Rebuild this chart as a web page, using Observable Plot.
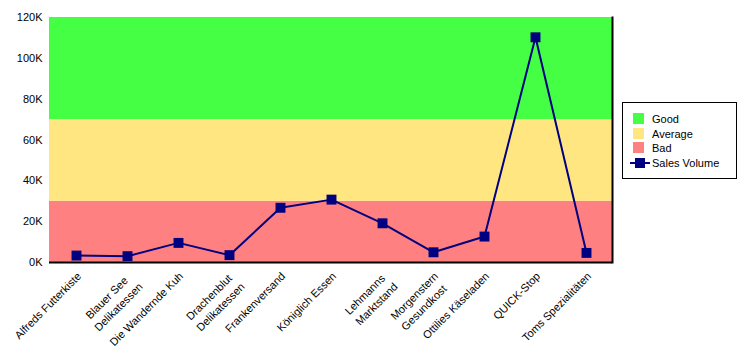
<!DOCTYPE html>
<html>
<head>
<meta charset="utf-8">
<script src="https://cdn.jsdelivr.net/npm/d3@7"></script>
<script src="https://cdn.jsdelivr.net/npm/@observablehq/plot@0.6"></script>
<style>
  body { margin: 0; background: #fff; font-family: Arial, "Liberation Sans", sans-serif; }
  #wrap { position: relative; width: 744px; height: 357px; }
  #legend { position: absolute; left: 622px; top: 102px; width: 113px; height: 75px; border: 1px solid #000; box-sizing: content-box; font-size: 11px; }
  .row { position: absolute; left: 0; height: 14px; line-height: 14px; }
  .sw { position: absolute; width: 11px; height: 11px; top: 1px; left: 10px; }
  .lbl { position: absolute; left: 29px; white-space: nowrap; }
</style>
</head>
<body>
<div id="wrap"></div>
<script>
const categories = ["Alfreds Futterkiste", "Blauer See Delikatessen", "Die Wandernde Kuh", "Drachenblut Delikatessen", "Frankenversand", "Königlich Essen", "Lehmanns Marktstand", "Morgenstern Gesundkost", "Ottilies Käseladen", "QUICK-Stop", "Toms Spezialitäten"];
// wrapped tick labels; shorter line padded with no-break spaces so the two lines sit centred on each other
const tickLabels = ["Alfreds Futterkiste", "Blauer See\u00a0\u00a0\nDelikatessen", "Die Wandernde Kuh", "Drachenblut\u00a0\nDelikatessen", "Frankenversand", "Königlich Essen", "Lehmanns\u00a0\nMarktstand", "Morgenstern\nGesundkost\u00a0", "Ottilies Käseladen", "QUICK-Stop", "Toms Spezialitäten"];
const salesVolume = [3400, 3100, 9600, 3600, 26800, 30800, 19200, 5000, 12700, 110300, 4700];
const bandNames = ["Bad", "Average", "Good"];
const bandFrom = [0, 30000, 70000];
const bandTo = [30000, 70000, 120000];
const bandColors = ["#ff8080", "#ffe680", "#44ff44"];
const yTicks = [0, 20000, 40000, 60000, 80000, 100000, 120000];

const bands = bandNames.map((n, i) => ({name: n, y1: bandFrom[i], y2: bandTo[i], color: bandColors[i]}));
const data = categories.map((c, i) => ({cat: c, v: salesVolume[i]}));

const plot = Plot.plot({
  width: 744,
  height: 357,
  marginLeft: 49,
  marginRight: 132,
  marginTop: 17,
  marginBottom: 95,
  style: {fontFamily: "Arial, 'Liberation Sans', sans-serif", fontSize: "11px", color: "#000", background: "#fff"},
  x: {type: "point", domain: categories, padding: 0.5},
  y: {domain: [0, 120000]},
  marks: [
    Plot.rect(bands, {y1: "y1", y2: "y2", fill: "color"}),
    Plot.ruleY([0], {stroke: "#000", strokeWidth: 2}),
    Plot.frame({anchor: "right", stroke: "#000", strokeWidth: 2}),
    Plot.line(data, {x: "cat", y: "v", stroke: "#000080", strokeWidth: 2}),
    Plot.dot(data, {x: "cat", y: "v", symbol: "square", r: 5.6, fill: "#000080", stroke: "none"}),
    Plot.axisY({ticks: yTicks, tickFormat: d => (d / 1000) + "K", tickSize: 0, tickPadding: 7, label: null, fontSize: 11}),
    Plot.axisX({tickFormat: (d) => tickLabels[categories.indexOf(d)], tickRotate: -45, tickSize: 0, tickPadding: 6, dx: -2, dy: 1, lineAnchor: "top", lineHeight: 1.35, label: null, fontSize: 11})
  ]
});
const wrap = document.getElementById("wrap");
wrap.appendChild(plot);

const legend = document.createElement("div");
legend.id = "legend";
const items = [
  {name: "Good", color: bandColors[2]},
  {name: "Average", color: bandColors[1]},
  {name: "Bad", color: bandColors[0]}
];
items.forEach((it, i) => {
  const r = document.createElement("div");
  r.className = "row";
  r.style.top = (9 + i * 14.7) + "px";
  r.style.width = "113px";
  r.innerHTML = `<div class="sw" style="background:${it.color}"></div><div class="lbl">${it.name}</div>`;
  legend.appendChild(r);
});
const r4 = document.createElement("div");
r4.className = "row";
r4.style.top = (9 + 3 * 14.7) + "px";
r4.style.width = "113px";
r4.innerHTML = `<div style="position:absolute;left:7px;top:6px;width:20px;height:2px;background:#000080"></div><div style="position:absolute;left:12px;top:2px;width:10px;height:10px;background:#000080"></div><div class="lbl">Sales Volume</div>`;
legend.appendChild(r4);
wrap.appendChild(legend);
</script>
</body>
</html>
